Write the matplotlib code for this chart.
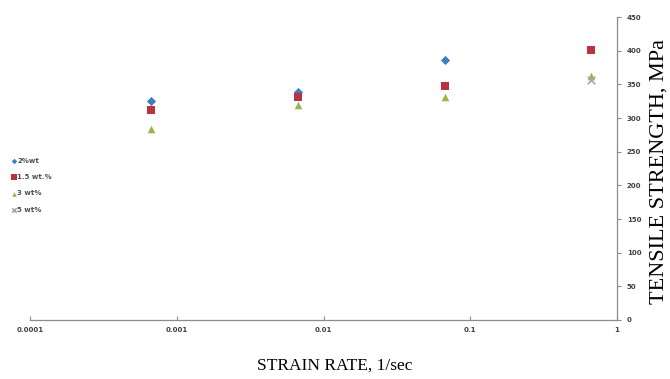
import numpy as np
import matplotlib
matplotlib.use("Agg")
import matplotlib.pyplot as plt

# Strain rates (1/sec) and tensile strength (MPa) per reinforcement content
strain_rate = [0.00067, 0.0067, 0.067, 0.67]
series_names = ["2%wt", "1.5 wt.%", "3 wt%", "5 wt%"]
uts_2wt = [325, 338, 386, np.nan]
uts_15wt = [312, 331, 348, 401]
uts_3wt = [283, 320, 331, 363]
uts_5wt = [np.nan, np.nan, np.nan, 356]

x_ticks = [0.0001, 0.001, 0.01, 0.1, 1]
x_tick_labels = ["0.0001", "0.001", "0.01", "0.1", "1"]
y_ticks = list(range(0, 451, 50))

fig = plt.figure(figsize=(6.7, 3.79), dpi=100)
ax = fig.add_axes([30 / 670, 1 - 320 / 379, (617 - 30) / 670, (320 - 17) / 379])

styles = [
    dict(marker="D", color="#3F7EC0", s=22),
    dict(marker="s", color="#B8333F", s=38),
    dict(marker="^", color="#98B54E", s=30),
    dict(marker="x", color="#A8A8A0", s=30),
]
for name, vals, st in zip(series_names, [uts_2wt, uts_15wt, uts_3wt, uts_5wt], styles):
    ax.scatter(strain_rate, vals, marker=st["marker"], c=st["color"], s=st["s"],
               linewidths=1.2 if st["marker"] == "x" else 0, label=name, zorder=3)

ax.set_xscale("log")
ax.set_xlim(0.0001, 1)
ax.set_ylim(0, 450)
ax.set_xticks(x_ticks)
ax.set_xticklabels(x_tick_labels)
ax.xaxis.set_minor_locator(matplotlib.ticker.NullLocator())
ax.set_yticks(y_ticks)

for side in ["left", "top"]:
    ax.spines[side].set_visible(False)
for side in ["right", "bottom"]:
    ax.spines[side].set_color("#8C8C8C")
    ax.spines[side].set_linewidth(0.9)

ax.yaxis.tick_right()
ax.tick_params(axis="y", direction="out", length=3, color="#8C8C8C",
               labelsize=5, labelcolor="#404040", pad=4)
ax.tick_params(axis="x", direction="in", length=3, color="#8C8C8C",
               labelsize=5, labelcolor="#404040", pad=5)
for lbl in ax.get_xticklabels() + ax.get_yticklabels():
    lbl.set_fontweight("bold")

leg = ax.legend(loc="center left", bbox_to_anchor=(-0.035, 0.445), frameon=False,
                fontsize=5, handlelength=0.6, handletextpad=0.1, labelspacing=1.5,
                markerscale=0.6, borderaxespad=0)
for t in leg.get_texts():
    t.set_color("#505050")
    t.set_fontweight("bold")

fig.text(335 / 670, 1 - 366 / 379, "STRAIN RATE, 1/sec", ha="center", va="center",
         family="Liberation Serif", fontsize=12.5)
fig.text(659 / 670, 1 - 172 / 379, "TENSILE STRENGTH, MPa", ha="center", va="center",
         rotation=90, family="Liberation Serif", fontsize=16)

fig.savefig("out.png", dpi=100)
